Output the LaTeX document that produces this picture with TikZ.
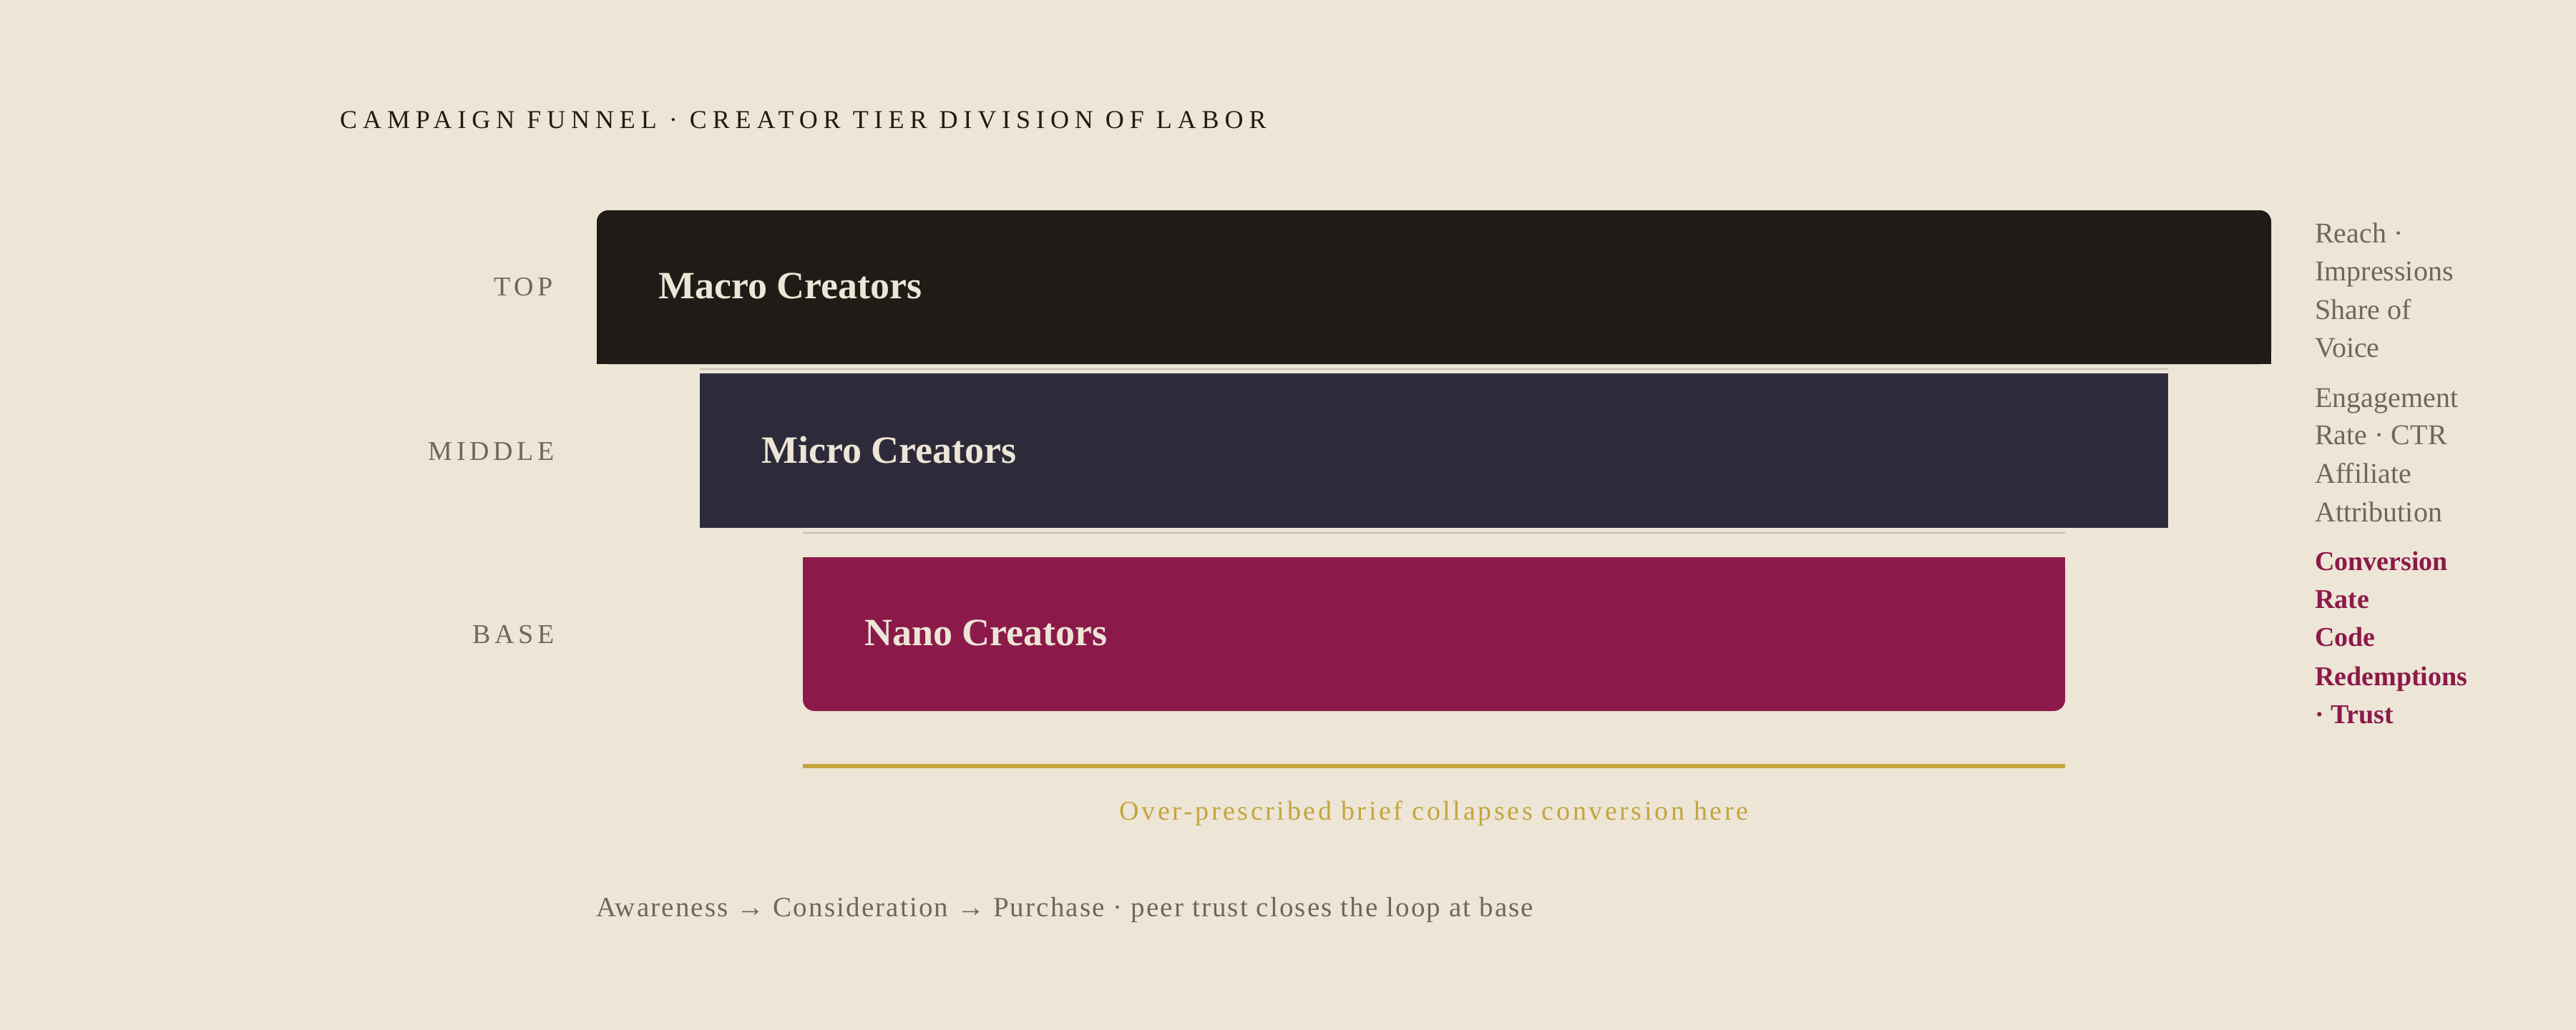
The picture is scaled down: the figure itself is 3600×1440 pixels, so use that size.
\documentclass[tikz,border=0pt]{standalone}
\usepackage{fontspec}
\setmainfont{Liberation Serif}
\definecolor{paper}{HTML}{EDE5D6}
\definecolor{ink}{HTML}{1F1B16}
\definecolor{slate}{HTML}{2D2B3A}
\definecolor{berry}{HTML}{8B1A4A}
\definecolor{gold}{HTML}{C4A53F}
\definecolor{muted}{HTML}{6E675D}
\definecolor{rulegray}{HTML}{C5BEB0}
\newcommand\mytitlefont{\fontsize{36}{42}\selectfont\addfontfeature{LetterSpace=22}}
\newcommand\wsp{\hspace{17pt}}
\begin{document}
\begin{tikzpicture}[x=1pt,y=-1pt,
  tier/.style={inner sep=0pt, outer sep=0pt, minimum height=215pt, anchor=north west},
  tiername/.style={anchor=base west, inner sep=0pt, text=paper, font=\fontsize{54}{60}\selectfont\bfseries},
  level/.style={anchor=base east, inner sep=0pt, text=muted, font=\fontsize{38}{44}\selectfont\addfontfeature{LetterSpace=15}},
  metric/.style={anchor=base west, inner sep=0pt, text=muted, font=\fontsize{40}{48}\selectfont},
  metricb/.style={anchor=base west, inner sep=0pt, text=berry, font=\fontsize{38}{46}\selectfont\bfseries},
  thinrule/.style={draw=rulegray, line width=2.5pt},
  goldrule/.style={draw=gold, line width=6pt}]
\useasboundingbox (0,0) rectangle (3600,1440);
\fill[paper] (0,0) rectangle (3600,1440);

% title
\node[anchor=base west, inner sep=0pt, text=ink, font=\mytitlefont] (title) at (475,179) {CAMPAIGN\wsp FUNNEL\wsp ·\wsp CREATOR\wsp TIER\wsp DIVISION\wsp OF\wsp LABOR};

% tiers
\node[tier, fill=ink, rounded corners=16pt, minimum width=2340pt] (macro) at (834,294) {};
\fill[ink] (macro.west) rectangle (macro.south east);
\node[tier, fill=slate, minimum width=2052pt, minimum height=216pt] (micro) at (978,522) {};
\node[tier, fill=berry, rounded corners=16pt, minimum width=1764pt] (nano) at (1122,779) {};
\fill[berry] (nano.north west) rectangle (nano.east);

\draw[thinrule] ([yshift=6pt]micro.north west) -- ([yshift=6pt]micro.north east);
\draw[thinrule] ([yshift=34pt]nano.north west) -- ([yshift=34pt]nano.north east);
\draw[goldrule] ([yshift=-77pt]nano.south west) -- ([yshift=-77pt]nano.south east);

\node[tiername] (macrot) at (920,417) {Macro Creators};
\node[tiername] (microt) at (1064,647) {Micro Creators};
\node[tiername] (nanot) at (1208,902) {Nano Creators};

% levels
\node[level] (ltop) at (773,413) {TOP};
\node[level] (lmid) at (775,643) {MIDDLE};
\node[level] (lbase) at (775,899) {BASE};

% metrics
\node[metric] (m1) at (3235,339) {Reach ·};
\node[metric] (m2) at (3235,392) {Impressions};
\node[metric] (m3) at (3235,446) {Share of};
\node[metric] (m4) at (3235,499) {Voice};
\node[metric] (m5) at (3235,569) {Engagement};
\node[metric] (m6) at (3235,621) {Rate · CTR};
\node[metric] (m7) at (3235,675) {Affiliate};
\node[metric] (m8) at (3235,729) {Attribution};
\node[metricb] (m9) at (3235,797) {Conversion};
\node[metricb] (m10) at (3235,850) {Rate};
\node[metricb] (m11) at (3235,903) {Code};
\node[metricb] (m12) at (3235,958) {Redemptions};
\node[metricb] (m13) at (3235,1011) {· Trust};

% notes
\node[anchor=base, inner sep=0pt, text=gold, font=\fontsize{38}{44}\selectfont\addfontfeature{LetterSpace=9.5}] (warn) at (2004,1146) {Over-prescribed brief collapses conversion here};
\node[anchor=base west, inner sep=0pt, text=muted, font=\fontsize{39}{46}\selectfont\addfontfeature{LetterSpace=5.5}] (flow) at (833,1281) {Awareness → Consideration → Purchase · peer trust closes the loop at base};
\end{tikzpicture}
\end{document}
